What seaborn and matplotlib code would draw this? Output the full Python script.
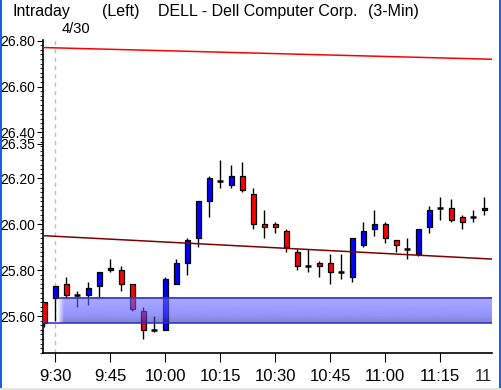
import numpy as np
import pandas as pd
import matplotlib
matplotlib.use("Agg")
import matplotlib.pyplot as plt
import seaborn as sns
from matplotlib.patches import Rectangle
from matplotlib.transforms import Bbox, TransformedBbox

# ---------------- data ----------------
times = ["9:27", "9:30", "9:33", "9:36", "9:39", "9:42", "9:45", "9:48", "9:51", "9:54",
         "9:57", "10:00", "10:03", "10:06", "10:09", "10:12", "10:15", "10:18", "10:21", "10:24",
         "10:27", "10:30", "10:33", "10:36", "10:39", "10:42", "10:45", "10:48", "10:51", "10:54",
         "10:57", "11:00", "11:03", "11:06", "11:09", "11:12", "11:15", "11:18", "11:21", "11:24",
         "11:27"]
opens = [25.66, 25.68, 25.74, 25.69, 25.69, 25.73, 25.80, 25.80, 25.74, 25.62,
         25.54, 25.54, 25.74, 25.83, 25.94, 26.10, 26.19, 26.17, 26.21, 26.13,
         26.00, 26.00, 25.97, 25.88, 25.82, 25.83, 25.83, 25.79, 25.77, 25.91,
         25.98, 26.00, 25.93, 25.89, 25.87, 25.99, 26.07, 26.07, 26.03, 26.03,
         26.06]
highs = [25.66, 25.73, 25.77, 25.71, 25.75, 25.79, 25.85, 25.82, 25.74, 25.64,
         25.60, 25.77, 25.85, 25.94, 26.10, 26.21, 26.28, 26.26, 26.27, 26.16,
         26.06, 26.01, 25.98, 25.89, 25.89, 25.84, 25.87, 25.87, 25.94, 26.01,
         26.06, 26.01, 25.93, 25.94, 25.98, 26.08, 26.12, 26.11, 26.04, 26.06,
         26.12]
lows = [25.55, 25.58, 25.68, 25.64, 25.65, 25.68, 25.79, 25.71, 25.62, 25.50,
        25.53, 25.54, 25.74, 25.78, 25.90, 26.03, 26.16, 26.16, 26.14, 25.98,
        25.94, 25.96, 25.88, 25.80, 25.79, 25.77, 25.74, 25.76, 25.75, 25.90,
        25.95, 25.92, 25.88, 25.85, 25.86, 25.96, 26.02, 26.01, 25.98, 26.01,
        26.04]
closes = [25.57, 25.73, 25.69, 25.69, 25.72, 25.79, 25.81, 25.74, 25.63, 25.54,
          25.54, 25.76, 25.83, 25.93, 26.10, 26.20, 26.19, 26.21, 26.15, 26.00,
          25.99, 25.99, 25.90, 25.82, 25.82, 25.82, 25.79, 25.79, 25.94, 25.97,
          26.00, 25.94, 25.91, 25.89, 25.98, 26.06, 26.07, 26.02, 26.01, 26.03,
          26.07]
upper_trend = [26.77, 26.72]     # at first and last bar
lower_trend = [25.95, 25.85]     # at first and last bar
band_low, band_high = 25.57, 25.68
y_tick_values = [25.60, 25.80, 26.00, 26.20, 26.35, 26.40, 26.60, 26.80]
x_tick_labels = ["9:30", "9:45", "10:00", "10:15", "10:30", "10:45", "11:00", "11:15", "11:30"]

df = pd.DataFrame({"time": times, "open": opens, "high": highs, "low": lows, "close": closes})
df["idx"] = np.arange(len(df))

# ---------------- figure ----------------
sns.set_style("white")
plt.rcParams["font.family"] = ["Liberation Sans", "DejaVu Sans"]

W, H = 501, 390
fig = plt.figure(figsize=(W / 100, H / 100), dpi=100)
fig.patch.set_facecolor("white")
L, R, T, B = 43.3, 491.7, 40.0, 353.3
ax = fig.add_axes([L / W, 1 - B / H, (R - L) / W, (B - T) / H])
ax.set_facecolor("white")

xmin, xmax = -0.09, 40.67
ax.set_xlim(xmin, xmax)
ax.set_ylim(25.4375, 26.803)

# trend lines (extended across the plot)
n = len(df) - 1
def extend(vals):
    slope = (vals[1] - vals[0]) / n
    return [vals[0] + slope * (xmin - 0), vals[0] + slope * (xmax - 0)]
tl = pd.DataFrame({"x": [xmin, xmax], "up": extend(upper_trend), "lo": extend(lower_trend)})
sns.lineplot(data=tl, x="x", y="up", ax=ax, color="#ff0000", lw=1.1, zorder=5)
sns.lineplot(data=tl, x="x", y="lo", ax=ax, color="#800000", lw=1.1, zorder=5)

# vertical dashed session line at 9:30
ax.axvline(1, color="#c0c0c0", lw=1.0, ls=(0, (3, 3)), zorder=1)

# candlesticks
bw = 0.45
up = df[df.close > df.open]
dn = df[df.close < df.open]
dj = df[df.close == df.open]
ax.vlines(df.idx, df.low, df.high, color="black", lw=1.0, zorder=2)
ax.bar(up.idx, up.close - up.open, bottom=up.open, width=bw, color="#0000ff",
       edgecolor="black", linewidth=0.9, zorder=3)
ax.bar(dn.idx, dn.open - dn.close, bottom=dn.close, width=bw, color="#ff0000",
       edgecolor="black", linewidth=0.9, zorder=3)
ax.hlines(dj.open, dj.idx - 0.26, dj.idx + 0.26, color="black", lw=1.8, zorder=3)

# translucent band with gradient
band_x0 = 1.15
ny, nx = 60, 400
t = np.linspace(0, 1, ny)[:, None]          # 0 top -> 1 bottom
rgba = np.zeros((ny, nx, 4))
top_c = np.array([0.45, 0.45, 1.0])
mid_c = np.array([0.30, 0.30, 1.0])
bot_c = np.array([0.20, 0.20, 0.55])
for k in range(3):
    col = np.where(t < 0.7, top_c[k] + (mid_c[k] - top_c[k]) * (t / 0.7),
                   mid_c[k] + (bot_c[k] - mid_c[k]) * ((t - 0.7) / 0.3))
    rgba[:, :, k] = col
xs = np.linspace(0, 1, nx)[None, :]
fade = np.clip(xs / 0.015, 0, 1)
rgba[:, :, 3] = 0.6 * fade
ax.imshow(rgba, extent=(band_x0, xmax, band_low, band_high), aspect="auto",
          interpolation="bilinear", zorder=4)
ax.hlines(band_high, band_x0, xmax, color="#2a2acc", lw=1.1, zorder=4)
ax.hlines(band_low, xmin, xmax, color="#2a2acc", lw=1.1, zorder=4)

# axes styling
for s in ["top", "right"]:
    ax.spines[s].set_visible(False)
for s in ["left", "bottom"]:
    ax.spines[s].set_color("black")
    ax.spines[s].set_linewidth(1.2)

ax.set_yticks(y_tick_values)
ax.set_yticklabels([f"{v:.2f}" for v in y_tick_values], fontsize=10)
ax.set_yticks(np.arange(25.44, 26.81, 0.02), minor=True)
ax.tick_params(axis="y", which="major", direction="out", length=4.5, width=0.8, pad=1.2,
               colors="black", left=True)
ax.tick_params(axis="y", which="minor", direction="out", length=2.2, width=0.7, left=True)

xfam = ["Liberation Sans Narrow", "Liberation Sans"]
xt = [1 + 5 * i for i in range(len(x_tick_labels) - 1)]
ax.set_xticks(xt)
ax.set_xticklabels(x_tick_labels[:-1], fontsize=12, family=xfam)
ax.tick_params(axis="x", which="major", direction="out", length=6.5, width=0.8, pad=5,
               colors="black", bottom=True)
# last label sits just past the axis end and is cut off at the chart edge
ann = ax.annotate(x_tick_labels[-1], xy=(1 + 5 * (len(x_tick_labels) - 1), 0),
                  xycoords=("data", "axes fraction"), xytext=(0, -11.5),
                  textcoords="offset points", fontsize=12, family=xfam,
                  ha="center", va="top", annotation_clip=False)
ann.set_clip_box(TransformedBbox(Bbox([[0, 0], [R / W, 1]]), fig.transFigure))
ann.set_clip_on(True)
ax.set_xlabel("")
ax.set_ylabel("")

# header texts
def ftxt(x, y, s, **kw):
    fig.text(x / W, 1 - y / H, s, va="baseline", ha="left", color="black", **kw)
ftxt(12, 16, "Intraday", fontsize=11.5)
ftxt(102, 16, "(Left)", fontsize=11.5)
ftxt(158, 16, "DELL - Dell Computer Corp.", fontsize=11.5)
ftxt(368, 16, "(3-Min)", fontsize=11.5)
ftxt(62, 32.7, "4/30", fontsize=10.5)

# window borders
fig.add_artist(Rectangle((0, 0), 2 / W, 1, transform=fig.transFigure, color="#1a5fe8", lw=0))
fig.add_artist(Rectangle((1 - 2 / W, 0), 2 / W, 1, transform=fig.transFigure, color="#1a5fe8", lw=0))
fig.add_artist(Rectangle((0, 0), 1, 2 / H, transform=fig.transFigure, color="#e4e4e4", lw=0))

fig.savefig("out.png", dpi=100)
